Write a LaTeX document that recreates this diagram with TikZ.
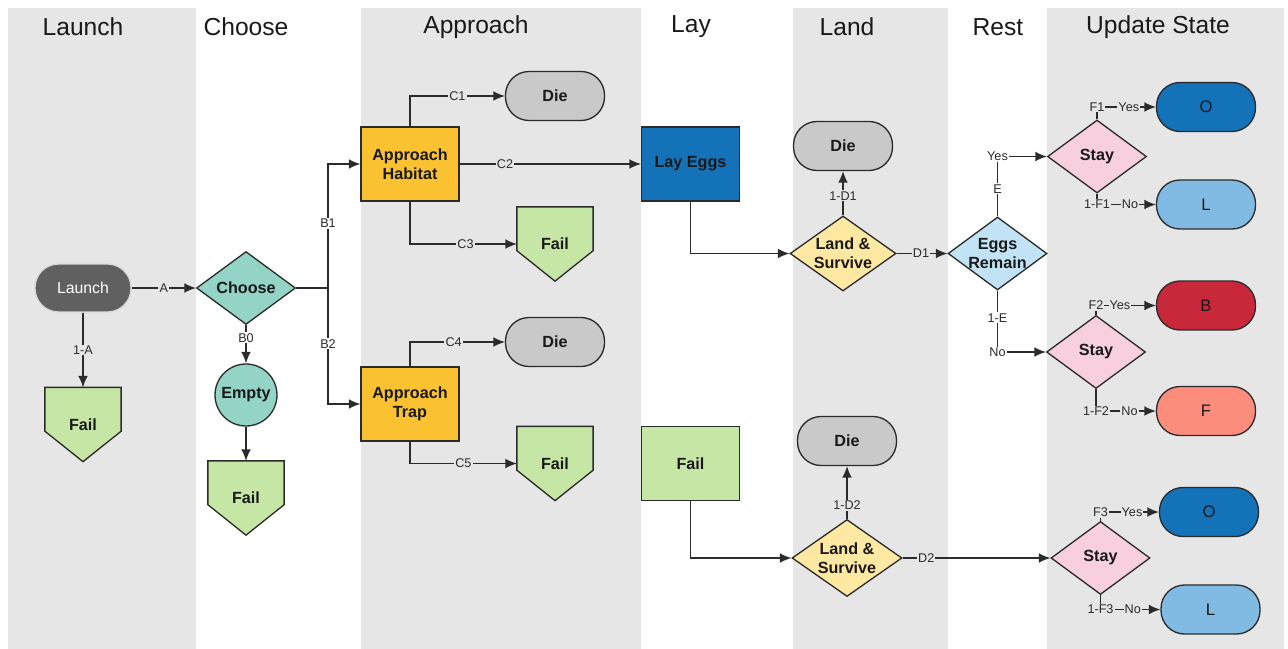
\documentclass[tikz,border=0pt]{standalone}
\usepackage{fontspec}
\setmainfont{Liberation Sans}
\usetikzlibrary{arrows.meta,shapes.geometric,calc}
\pgfdeclarelayer{lanes}
\pgfdeclarelayer{bg}
\pgfsetlayers{lanes,bg,main}
\definecolor{lanegray}{HTML}{E6E6E6}
\definecolor{linec}{HTML}{2B2B2B}
\definecolor{launchc}{HTML}{606060}
\definecolor{failc}{HTML}{C6E6A6}
\definecolor{tealc}{HTML}{93D4C7}
\definecolor{orangec}{HTML}{FAC230}
\definecolor{diec}{HTML}{C9C9C9}
\definecolor{layc}{HTML}{1472B9}
\definecolor{yellowc}{HTML}{FEE8A2}
\definecolor{eggc}{HTML}{C2E3F5}
\definecolor{pinkc}{HTML}{F7CFDE}
\definecolor{lbluec}{HTML}{81BBE4}
\definecolor{redc}{HTML}{C9283A}
\definecolor{salmonc}{HTML}{FC8C7B}
\newcommand\failpoly[1]{\begin{pgfonlayer}{bg}\filldraw[fill=failc,draw=linec,line width=0.75pt] (#1.north west) -- (#1.north east) -- ($(#1.south east)!0.41!(#1.north east)$) -- (#1.south) -- ($(#1.south west)!0.41!(#1.north west)$) -- cycle;\end{pgfonlayer}}
\begin{document}
\begin{tikzpicture}[x=0.02cm,y=-0.02cm,
 line/.style={draw=linec,line width=0.75pt},
 arr/.style={line,-{Latex[length=6.5pt,width=5.5pt]}},
 lbl/.style={fill=lanegray,inner sep=0.6pt,font=\fontsize{7.2}{8}\selectfont,text=linec},
 lblw/.style={lbl,fill=white},
 bnode/.style={draw=linec,line width=0.75pt,font=\fontsize{9.2}{11}\selectfont\bfseries,align=center,inner sep=0pt,text=black!90},
 rbox/.style={bnode,rectangle,minimum width=1.96cm,minimum height=1.48cm},
 stad/.style={bnode,rectangle,rounded corners=0.47cm,minimum width=1.98cm,minimum height=0.98cm},
 outc/.style={stad,font=\fontsize{9.5}{11}\selectfont},
 dia/.style={bnode,diamond,inner sep=-6pt,minimum width=1.98cm,minimum height=1.46cm},
 failbox/.style={bnode,draw=none,minimum width=1.5cm,minimum height=1.46cm},
 title/.style={font=\fontsize{14}{16}\selectfont,text=black!90}]
\useasboundingbox (0,0) rectangle (1288,649);
\begin{pgfonlayer}{lanes}
\fill[lanegray] (8,8) rectangle (196,649);
\fill[lanegray] (361,8) rectangle (641,649);
\fill[lanegray] (793,8) rectangle (948,649);
\fill[lanegray] (1047,8) rectangle (1284,649);
\end{pgfonlayer}
% titles
\node[title] (t1) at (83,27) {Launch};
\node[title] (t2) at (246,27) {Choose};
\node[title] (t3) at (476,27) {Approach};
\node[title] (t4) at (691,27) {Lay};
\node[title] (t5) at (847,27) {Land};
\node[title] (t6) at (998,27) {Rest};
\node[title] (t7) at (1158,27) {Update State};
% nodes
\node[stad, fill=launchc, draw=white!85!black, text=white, font=\fontsize{9}{11}\selectfont, minimum width=1.92cm, minimum height=0.96cm] (launch) at (83,288) {Launch};
\node[failbox] (fail1) at (83,424.5) {Fail};
\failpoly{fail1}
\node[dia, fill=tealc] (choose) at (246,288) {Choose};
\node[bnode, circle, fill=tealc, minimum size=1.24cm] (empty) at (246,395) {Empty};
\node[failbox] (fail2) at (246,498) {Fail};
\failpoly{fail2}
\node[rbox, fill=orangec] (ah) at (410,164) {Approach\\Habitat};
\node[stad, fill=diec] (die1) at (555,96) {Die};
\node[failbox] (fail3) at (555,244) {Fail};
\failpoly{fail3}
\node[rbox, fill=orangec] (at) at (410,404) {Approach\\Trap};
\node[stad, fill=diec] (die2) at (555,342) {Die};
\node[failbox] (fail4) at (555,463.5) {Fail};
\failpoly{fail4}
\node[rbox, fill=layc] (lay) at (690.5,164) {Lay Eggs};
\node[rbox, fill=failc] (fail5) at (690.5,463.5) {Fail};
\node[dia, fill=yellowc, minimum width=2.12cm, minimum height=1.5cm] (ls1) at (843,253.5) {Land \&\\Survive};
\node[stad, fill=diec] (die3) at (843,146) {Die};
\node[dia, fill=yellowc, minimum width=2.2cm, minimum height=1.54cm] (ls2) at (847,558) {Land \&\\Survive};
\node[stad, fill=diec] (die4) at (847,441) {Die};
\node[dia, fill=eggc] (er) at (997.5,253.5) {Eggs\\Remain};
\node[dia, fill=pinkc] (st1) at (1097,156.5) {Stay};
\node[dia, fill=pinkc] (st2) at (1096,352) {Stay};
\node[dia, fill=pinkc] (st3) at (1100.5,558) {Stay};
\node[outc, fill=layc] (o1) at (1206,107) {O};
\node[outc, fill=lbluec] (l1) at (1206,204.5) {L};
\node[outc, fill=redc] (b1) at (1206,305.5) {B};
\node[outc, fill=salmonc] (f1) at (1206,411) {F};
\node[outc, fill=layc] (o2) at (1209,512) {O};
\node[outc, fill=lbluec] (l2) at (1210.5,609.5) {L};
% connectors
\draw[arr] (launch.east) -- node[lbl]{A} (choose.west);
\draw[arr] (launch.south) -- node[lbl]{1-A} (fail1.north);
\draw[arr] (choose.south) -- node[lblw,pos=0.33]{B0} (empty.north);
\draw[arr] (empty.south) -- (fail2.north);
\draw[line] (choose.east) -- (328,288) coordinate (br);
\draw[arr] (br) |- node[lblw,pos=0.26]{B1} (ah.west);
\draw[arr] (br) |- node[lblw,pos=0.24]{B2} (at.west);
\draw[arr] (ah.north) |- node[lbl,pos=0.75]{C1} (die1.west);
\draw[arr] (ah.east) -- node[lbl,pos=0.25]{C2} (lay.west);
\draw[arr] (ah.south) |- node[lbl,pos=0.76]{C3} (fail3.west);
\draw[arr] (at.north) |- node[lbl,pos=0.73]{C4} (die2.west);
\draw[arr] (at.south) |- node[lbl,pos=0.75]{C5} (fail4.west);
\draw[arr] (lay.south) |- (ls1.west);
\draw[arr] (ls1.north) -- node[lbl,pos=0.44]{1-D1} (die3.south);
\draw[arr] (ls1.east) -- node[lbl,pos=0.48]{D1} (er.west);
\draw[arr] (er.north) |- node[lblw,pos=0.23]{E} node[lblw,pos=0.5]{Yes} (st1.west);
\draw[arr] (er.south) |- node[lblw,pos=0.22]{1-E} node[lblw,pos=0.5]{No} (st2.west);
\draw[arr] (st1.north) |- node[lbl,pos=0.5]{F1} node[lbl,pos=0.77]{Yes} (o1.west);
\draw[arr] (st1.south) |- node[lbl,pos=0.5]{1-F1} node[lbl,pos=0.78]{No} (l1.west);
\draw[arr] (st2.north) |- node[lbl,pos=0.5]{F2} node[lbl,pos=0.7]{Yes} (b1.west);
\draw[arr] (st2.south) |- node[lbl,pos=0.5]{1-F2} node[lbl,pos=0.78]{No} (f1.west);
\draw[arr] (fail5.south) |- (ls2.west);
\draw[arr] (ls2.north) -- node[lbl,pos=0.26]{1-D2} (die4.south);
\draw[arr] (ls2.east) -- node[lbl,pos=0.16]{D2} (st3.west);
\draw[arr] (st3.north) |- node[lbl,pos=0.5]{F3} node[lbl,pos=0.77]{Yes} (o2.west);
\draw[arr] (st3.south) |- node[lbl,pos=0.5]{1-F3} node[lbl,pos=0.77]{No} (l2.west);
\end{tikzpicture}
\end{document}
